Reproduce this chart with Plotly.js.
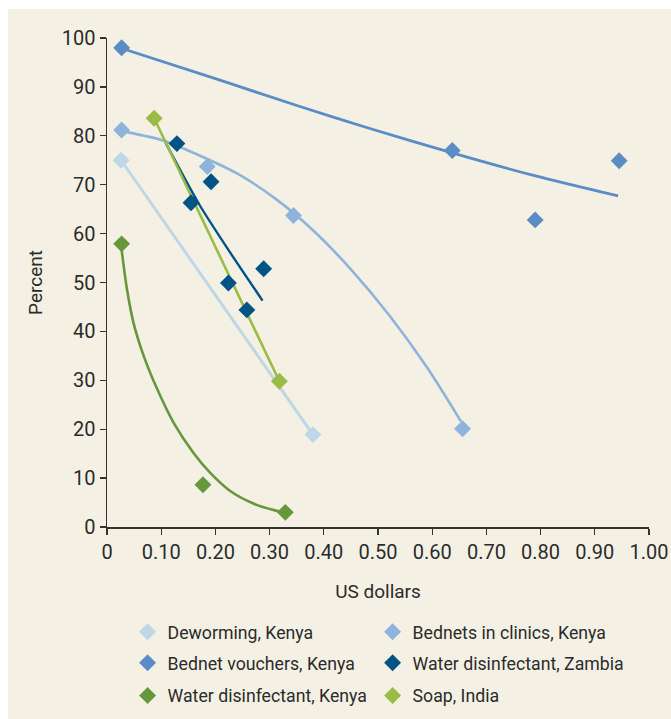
<!DOCTYPE html>
<html>
<head>
<meta charset="utf-8">
<script src="https://cdn.plot.ly/plotly-3.0.1.min.js"></script>
<style>
  html, body { margin: 0; padding: 0; background: #ffffff; }
  #chart { position: absolute; left: 8px; top: 9px; width: 663px; height: 710px; }
</style>
</head>
<body>
<div id="chart"></div>
<script>
// Series names
const seriesNames = [
  "Deworming, Kenya",
  "Bednets in clinics, Kenya",
  "Bednet vouchers, Kenya",
  "Water disinfectant, Zambia",
  "Water disinfectant, Kenya",
  "Soap, India"
];
const seriesColors = ["#bdd7e7", "#8eb4dc", "#5b8cc6", "#005385", "#66973c", "#9bbb47"];
// legend row each series sits in (two per row)
const legendRows = ["legend", "legend", "legend2", "legend2", "legend3", "legend3"];

// Observed points (US dollars, percent)
const dewormX = [0.026, 0.38];
const dewormY = [75.0, 18.9];
const clinicX = [0.027, 0.185, 0.344, 0.656];
const clinicY = [81.2, 73.7, 63.7, 20.1];
const voucherX = [0.027, 0.637, 0.79, 0.945];
const voucherY = [98.0, 77.0, 62.8, 74.9];
const zambiaX = [0.129, 0.155, 0.192, 0.224, 0.258, 0.289];
const zambiaY = [78.4, 66.3, 70.6, 49.9, 44.4, 52.8];
const wdKenyaX = [0.027, 0.177, 0.329];
const wdKenyaY = [57.9, 8.65, 3.0];
const soapX = [0.087, 0.318];
const soapY = [83.6, 29.8];

// Trend lines
const dewormTrendX = [0.026, 0.38];
const dewormTrendY = [75.0, 18.9];
const clinicTrendX = [0.034, 0.105, 0.17, 0.24, 0.31, 0.38, 0.45, 0.52, 0.59, 0.653];
const clinicTrendY = [80.8, 79.0, 76.0, 72.3, 67.2, 60.7, 52.7, 43.4, 32.7, 21.6];
const voucherTrendX = [0.035, 0.2, 0.356, 0.479, 0.637, 0.787, 0.943];
const voucherTrendY = [97.6, 91.7, 86.0, 81.7, 76.5, 71.9, 67.7];
const zambiaTrendX = [0.108, 0.17, 0.228, 0.287];
const zambiaTrendY = [78.6, 66.0, 56.0, 46.3];
const wdKenyaTrendX = [0.027, 0.037, 0.049, 0.068, 0.093, 0.123, 0.16, 0.191, 0.228, 0.27, 0.31, 0.329];
const wdKenyaTrendY = [56.7, 48.5, 41.7, 34.9, 28.1, 21.3, 15.1, 11.0, 7.3, 4.8, 3.4, 3.0];
const soapTrendX = [0.087, 0.318];
const soapTrendY = [83.6, 29.8];

// Axis ticks
const xTickVals = [0, 0.1, 0.2, 0.3, 0.4, 0.5, 0.6, 0.7, 0.8, 0.9, 1.0];
const xTickText = ["0", "0.10", "0.20", "0.30", "0.40", "0.50", "0.60", "0.70", "0.80", "0.90", "1.00"];
const yTickVals = [0, 10, 20, 30, 40, 50, 60, 70, 80, 90, 100];
const yTickText = ["0", "10", "20", "30", "40", "50", "60", "70", "80", "90", "100"];

const pointsX = [dewormX, clinicX, voucherX, zambiaX, wdKenyaX, soapX];
const pointsY = [dewormY, clinicY, voucherY, zambiaY, wdKenyaY, soapY];
const trendX = [dewormTrendX, clinicTrendX, voucherTrendX, zambiaTrendX, wdKenyaTrendX, soapTrendX];
const trendY = [dewormTrendY, clinicTrendY, voucherTrendY, zambiaTrendY, wdKenyaTrendY, soapTrendY];
const trendWidth = [3, 2.6, 2.8, 2.4, 2.6, 2.6];

const fontFam = "Roboto, 'Noto Sans', sans-serif";
const textColor = "#2b2b2b";

const traces = [];
for (let i = 0; i < seriesNames.length; i++) {
  traces.push({
    x: trendX[i], y: trendY[i], type: "scatter", mode: "lines",
    line: { color: seriesColors[i], width: trendWidth[i], shape: "spline", smoothing: 0.8 },
    showlegend: false, hoverinfo: "skip", cliponaxis: false
  });
}
for (let i = 0; i < seriesNames.length; i++) {
  const tr = {
    x: pointsX[i], y: pointsY[i], type: "scatter", mode: "markers",
    name: seriesNames[i], legend: legendRows[i],
    marker: { symbol: "diamond", size: 13, color: seriesColors[i] },
    cliponaxis: false
  };
  if (i % 2 === 1) tr.legendwidth = 230;
  traces.push(tr);
}

function rowLegend(yPos) {
  return {
    orientation: "h", x: 0.038, xanchor: "left", y: yPos, yanchor: "middle", yref: "container",
    entrywidth: 200, entrywidthmode: "pixels",
    font: { family: fontFam, size: 17.7, color: textColor },
    bgcolor: "rgba(0,0,0,0)", traceorder: "normal"
  };
}

const layout = {
  width: 663, height: 710,
  paper_bgcolor: "#f4f1e4", plot_bgcolor: "#f4f1e4",
  margin: { l: 98.5, r: 22, t: 29.3, b: 191.7, pad: 0 },
  font: { family: fontFam, color: textColor, size: 20 },
  showlegend: true,
  xaxis: {
    range: [0, 1], tickmode: "array", tickvals: xTickVals, ticktext: xTickText,
    showgrid: false, zeroline: false, showline: true, linecolor: "#333333", linewidth: 1.5,
    ticks: "outside", ticklen: 6, tickwidth: 1.3, tickcolor: "#333333",
    tickfont: { family: fontFam, size: 20, color: textColor },
    title: { text: "US dollars", font: { family: fontFam, size: 19, color: textColor }, standoff: 22 },
    automargin: false, fixedrange: true
  },
  yaxis: {
    range: [0, 100], tickmode: "array", tickvals: yTickVals, ticktext: yTickText,
    showgrid: false, zeroline: false, showline: true, linecolor: "#333333", linewidth: 1.5,
    ticks: "outside", ticklen: 6, tickwidth: 1.3, tickcolor: "#333333",
    tickfont: { family: fontFam, size: 20, color: textColor },
    title: { text: "Percent", font: { family: fontFam, size: 19, color: textColor }, standoff: 14 },
    automargin: false, fixedrange: true
  },
  legend: rowLegend(0.1221),
  legend2: rowLegend(0.0785),
  legend3: rowLegend(0.0324)
};

Plotly.newPlot("chart", traces, layout, { displayModeBar: false, staticPlot: true });
</script>
</body>
</html>
